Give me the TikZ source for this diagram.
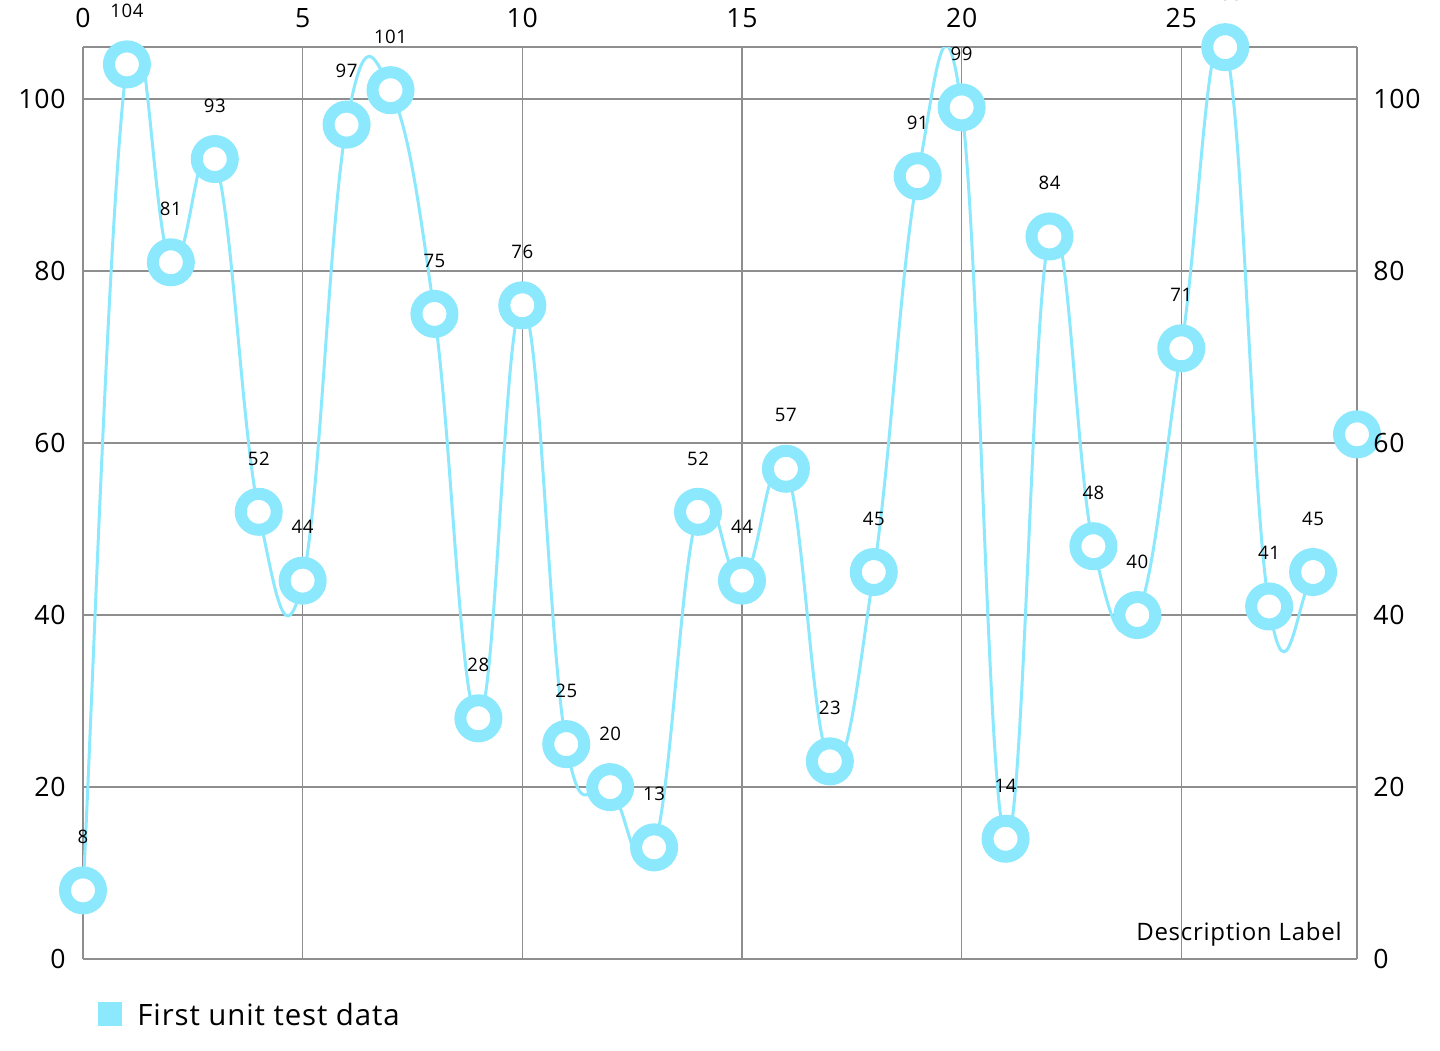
\documentclass[tikz,border=0pt]{standalone}
\usepackage{fontspec}
\setmainfont{Open Sans}[LetterSpace=3]
\definecolor{cy}{HTML}{8CE9FD}
\definecolor{gridc}{HTML}{8E8E8E}
\begin{document}
\begin{tikzpicture}[x=0.5pt,y=-0.5pt,
  gridline/.style={draw=gridc,line width=0.75pt},
  curve/.style={draw=cy,line width=1.5pt,line cap=round,line join=round},
  marker/.style={circle,draw=cy,line width=6pt,fill=white,minimum size=18pt,inner sep=0pt,outer sep=0pt},
  vallabel/.style={inner sep=0pt,font=\fontsize{9.3}{11}\selectfont},
  axlabel/.style={inner sep=0pt,font=\fontsize{13.3}{16}\selectfont},
  legendsq/.style={fill=cy,minimum size=12pt,inner sep=0pt,outer sep=0pt},
  legendtext/.style={inner sep=0pt,font=\fontsize{14.7}{18}\selectfont,anchor=base west},
  desclabel/.style={inner sep=0pt,font=\fontsize{12}{14}\selectfont,anchor=base east}]
\useasboundingbox (0,0) rectangle (1440,1050);
\fill[white] (0,0) rectangle (1440,1050);
\def\vals{{8,104,81,93,52,44,97,101,75,28,76,25,20,13,52,44,57,23,45,91,99,14,84,48,40,71,106,41,45,61}}
\begin{scope}[shift={(41.5pt,-479.6pt)},x=21.9655pt,y=4.302pt]
  % grid
  \foreach \gx in {0,5,10,15,20,25,29} \draw[gridline] (\gx,0) -- (\gx,106);
  \foreach \gy in {0,20,40,60,80,100,106} \draw[gridline] (0,\gy) -- (29,\gy);
  % curve (cubic bezier, intensity 0.2)
  \gdef\cpath{(0,8)}
  \foreach \i in {1,...,28}{
    \pgfmathtruncatemacro\ipp{max(\i-2,0)}
    \pgfmathtruncatemacro\ip{\i-1}
    \pgfmathtruncatemacro\inx{\i+1}
    \pgfmathsetmacro\ypp{\vals[\ipp]}
    \pgfmathsetmacro\yp{\vals[\ip]}
    \pgfmathsetmacro\yc{\vals[\i]}
    \pgfmathsetmacro\yn{\vals[\inx]}
    \pgfmathsetmacro\cax{\ip+0.2*(\i-\ipp)}
    \pgfmathsetmacro\cay{\yp+0.2*(\yc-\ypp)}
    \pgfmathsetmacro\cbx{\i-0.2*(\inx-\ip)}
    \pgfmathsetmacro\cby{\yc-0.2*(\yn-\yp)}
    \xdef\cpath{\cpath .. controls (\cax,\cay) and (\cbx,\cby) .. (\i,\yc)}
  }
  \begin{scope}
    \clip (0,0) rectangle (29,106);
    \edef\drawcurve{\noexpand\draw[curve] \cpath;}
    \drawcurve
  \end{scope}
  % markers
  \foreach \i in {0,...,29}{
    \pgfmathsetmacro\v{\vals[\i]}
    \node[marker] (p\i) at (\i,\v) {};
  }
  % value labels
  \foreach \i in {0,...,28}{
    \pgfmathtruncatemacro\v{\vals[\i]}
    \node[vallabel] (v\i) at ([yshift=26.7pt]p\i.center) {\v};
  }
  % axis labels
  \foreach \gx in {0,5,10,15,20,25}
    \node[axlabel] (tx\gx) at ([yshift=14.6pt]\gx,106) {\gx};
  \foreach \gy in {0,20,40,60,80,100}{
    \node[axlabel,anchor=east] (ly\gy) at ([xshift=-8.5pt]0,\gy) {\gy};
    \node[axlabel,anchor=west] (ry\gy) at ([xshift=8pt]29,\gy) {\gy};
  }
\end{scope}
\node[desclabel] (desc) at (1342,940) {Description Label};
\node[legendsq] (lgsq) at (110,1013.7) {};
\node[legendtext] (lgtext) at (137,1025) {First unit test data};
\end{tikzpicture}
\end{document}
